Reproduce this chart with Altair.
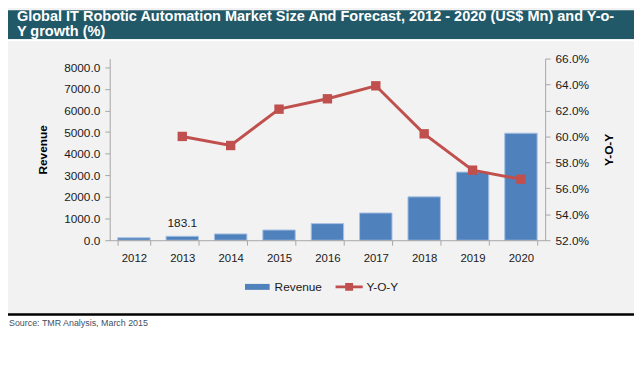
import altair as alt
import pandas as pd

# ---------------- data ----------------
years = ["2012", "2013", "2014", "2015", "2016", "2017", "2018", "2019", "2020"]
revenue = [114.4, 183.1, 291.7, 472.6, 769.4, 1260.3, 2005.0, 3150.0, 4950.0]
yoy = [None, 60.0, 59.3, 62.1, 62.9, 63.9, 60.2, 57.4, 56.7]
bar_labels = ["", "183.1", "", "", "", "", "", "", ""]
series = ["Revenue", "Y-O-Y"]
series_colors = ["#4f81bd", "#c0504d"]
rev_ticks = [0, 1000, 2000, 3000, 4000, 5000, 6000, 7000, 8000]
yoy_ticks = [52, 54, 56, 58, 60, 62, 64, 66]
title_lines = [
    "Global IT Robotic Automation Market Size And Forecast, 2012 - 2020 (US$ Mn) and Y-o-",
    "Y growth (%)",
]
source_text = "Source: TMR Analysis, March 2015"

FONT = "Liberation Sans"
W, H = 441, 184
PAD_L, PAD_T, PAD_R, PAD_B = 103, 49, 90, 112

bars_df = pd.DataFrame({"year": years, "revenue": revenue, "label": bar_labels})
line_df = pd.DataFrame({"year": years, "yoy": yoy}).dropna()
legend_df = pd.DataFrame({"series": series})
one = pd.DataFrame({"k": [0]})

x_enc = alt.X(
    "year:N",
    scale=alt.Scale(domain=years, paddingInner=0.33, paddingOuter=0.165),
    axis=alt.Axis(
        title=None, labelAngle=0, tickBand="extent", tickSize=5, labelPadding=8,
        labelFontSize=11.5, zindex=1, labelOverlap=False,
    ),
)

# ---------------- decoration ----------------
banner = alt.Chart(one).mark_rect(color="#215968").encode(
    x=alt.value(-PAD_L), x2=alt.value(W + PAD_R), y=alt.value(-PAD_T), y2=alt.value(-19.5)
)
white_top = alt.Chart(one).mark_rect(color="#ffffff").encode(
    x=alt.value(-PAD_L), x2=alt.value(W + PAD_R), y=alt.value(-19.5), y2=alt.value(-17.5)
)
white_bottom = alt.Chart(one).mark_rect(color="#ffffff").encode(
    x=alt.value(-PAD_L), x2=alt.value(W + PAD_R), y=alt.value(258), y2=alt.value(H + PAD_B + 6)
)
bottom_line = alt.Chart(one).mark_rect(color="#000000").encode(
    x=alt.value(-PAD_L), x2=alt.value(W + PAD_R), y=alt.value(258), y2=alt.value(260.5)
)
title = alt.Chart(one).mark_text(
    align="left", baseline="alphabetic", font=FONT, fontSize=14.7,
    fontWeight="bold", color="white", lineHeight=15,
).encode(x=alt.value(-94), y=alt.value(-38), text=alt.value(title_lines))
source = alt.Chart(one).mark_text(
    align="left", baseline="alphabetic", font=FONT, fontSize=9, color="#3f4f5f"
).encode(x=alt.value(-102), y=alt.value(271), text=alt.value(source_text))

# ---------------- bars ----------------
y_rev = alt.Y(
    "revenue:Q",
    scale=alt.Scale(domain=[0, 8400], nice=False),
    axis=alt.Axis(
        orient="left", values=rev_ticks, format=".1f", title="Revenue",
        titleX=-68, titleY=H / 2, titleAngle=270, titleBaseline="middle",
        titleAlign="center", tickSize=5, labelPadding=5, zindex=1,
        labelOverlap=False, labelFlush=False,
    ),
)
bars = alt.Chart(bars_df).mark_bar(
    color=series_colors[0], stroke="#a9c1e3", strokeWidth=1
).encode(x=x_enc, y=y_rev)
bar_text = alt.Chart(bars_df).mark_text(
    baseline="alphabetic", dy=-9, font=FONT, fontSize=12, color="#1a1a1a"
).encode(x=x_enc, y=y_rev, text="label:N")
rev_layer = alt.layer(bars, bar_text)

# ---------------- line ----------------
y_yoy = alt.Y(
    "yoy:Q",
    scale=alt.Scale(domain=[52, 66], nice=False, zero=False),
    axis=alt.Axis(
        orient="right", values=yoy_ticks,
        labelExpr="format(datum.value, '.1f') + '%'", title="Y-O-Y",
        titleX=64.5, titleY=H / 2, titleAngle=270, titleBaseline="middle",
        titleAlign="center", tickSize=5, labelPadding=5, zindex=1,
        labelOverlap=False, labelFlush=False,
    ),
)
line = alt.Chart(line_df).mark_line(color=series_colors[1], strokeWidth=3).encode(
    x=x_enc, y=y_yoy
)
pts = alt.Chart(line_df).mark_square(color=series_colors[1], size=90, opacity=1).encode(
    x=x_enc, y=y_yoy
)
yoy_layer = alt.layer(line, pts)

# ---------------- legend ----------------
path_rev = "M-1,-0.24H1V0.24H-1Z"
path_yoy = "M-1.1,-0.12H1.1V0.12H-1.1Z M-0.32,-0.32H0.32V0.32H-0.32Z"
leg_opts = dict(
    title=None, orient="none", direction="horizontal", legendX=137, legendY=218.5,
    symbolSize=625, symbolOpacity=1, symbolStrokeWidth=0, labelOffset=5,
    columnPadding=12, labelFont=FONT, labelFontSize=12, labelColor="#1a1a1a",
    padding=0,
)
legend = alt.Chart(legend_df).mark_point(filled=True, opacity=0, size=625).encode(
    x=alt.value(0), y=alt.value(0),
    color=alt.Color("series:N", scale=alt.Scale(domain=series, range=series_colors),
                    legend=alt.Legend(**leg_opts)),
    shape=alt.Shape("series:N", scale=alt.Scale(domain=series, range=[path_rev, path_yoy]),
                    legend=alt.Legend(**leg_opts)),
)

chart = (
    alt.layer(rev_layer, yoy_layer, banner, white_top, white_bottom, bottom_line,
              title, source, legend)
    .resolve_scale(y="independent")
    .properties(
        width=W, height=H,
        autosize=alt.AutoSizeParams(type="none"),
        padding={"left": PAD_L, "top": PAD_T, "right": PAD_R, "bottom": PAD_B},
        background="#f2f2f2",
    )
    .configure_view(stroke=None)
    .configure_axis(
        grid=False, labelFont=FONT, titleFont=FONT, labelFontSize=12,
        titleFontSize=12, titleFontWeight="bold", labelColor="#1a1a1a",
        titleColor="#000000", domainColor="#a6a6a6", tickColor="#a6a6a6",
        labelOverlap=False,
    )
)

chart.save("out.html", embed_options={"renderer": "svg", "actions": False})
